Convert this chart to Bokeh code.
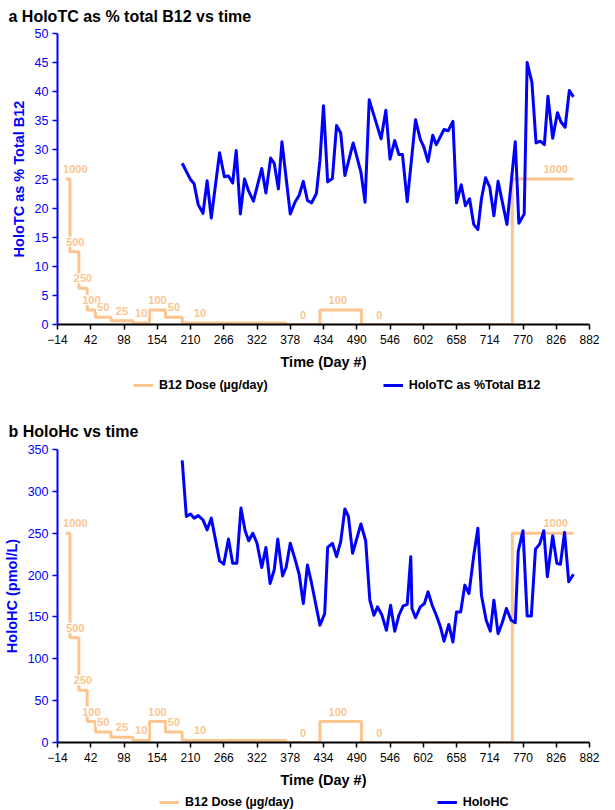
from bokeh.plotting import figure
from bokeh.models import Range1d, FixedTicker, Legend, LegendItem
from bokeh.layouts import column
from bokeh.embed import file_html
from bokeh.resources import INLINE
from bokeh.core.properties import value

FONT = "Liberation Sans"
BLUE = "#0000FF"
ORANGE = "#FCC48F"

# ---------------- data ----------------
x_ticks = [-14, 42, 98, 154, 210, 266, 322, 378, 434, 490, 546, 602, 658, 714, 770, 826, 882]
tc_ticks = [0, 5, 10, 15, 20, 25, 30, 35, 40, 45, 50]
hc_ticks = [0, 50, 100, 150, 200, 250, 300, 350]

dose_start = [0, 7, 22, 36, 50, 76, 113, 141, 168, 196, 371, 428, 498, 752]
dose_ugday = [1000, 500, 250, 100, 50, 25, 10, 100, 50, 10, 0, 100, 0, 1000]
dose_end = 855

tc_days = [196, 210, 216, 223, 231, 238, 245, 259, 267, 274,
           281, 287, 294, 301, 308, 316, 330, 337, 345, 351,
           358, 364, 378, 386, 393, 400, 407, 414, 422, 428,
           434, 441, 449, 456, 463, 470, 484, 497, 504, 511,
           531, 539, 546, 554, 561, 567, 575, 589, 597, 603,
           610, 618, 624, 637, 644, 652, 658, 666, 673, 680,
           687, 694, 700, 707, 714, 721, 728, 743, 757, 763,
           772, 777, 785, 792, 799, 806, 812, 820, 828, 834,
           841, 848, 855]
tc_pct = [27.7, 24.9, 24.2, 20.6, 19.1, 24.7, 18.3, 29.5, 25.4, 25.5,
          24.3, 29.9, 19.0, 25.0, 22.9, 21.2, 26.8, 22.6, 28.6, 27.7,
          23.3, 31.4, 19.0, 21.0, 22.2, 24.6, 21.3, 20.9, 22.5, 28.2,
          37.6, 24.5, 25.1, 34.2, 32.9, 25.6, 31.2, 26.2, 21.0, 38.6,
          31.9, 36.8, 28.4, 31.6, 29.2, 29.2, 21.1, 35.2, 31.8, 30.5,
          28.0, 32.5, 30.9, 33.5, 33.3, 34.9, 20.9, 24.0, 20.4, 21.6,
          17.2, 16.3, 21.6, 25.2, 23.6, 18.7, 24.6, 17.2, 31.4, 17.4,
          19.0, 45.0, 41.6, 31.2, 31.5, 30.9, 39.2, 32.0, 36.4, 34.8,
          33.9, 40.2, 39.1]

hc_days = [196, 203, 210, 216, 223, 231, 238, 245, 259, 266,
           274, 281, 288, 295, 302, 308, 315, 322, 330, 337,
           344, 351, 357, 365, 371, 378, 386, 393, 400, 407,
           414, 428, 436, 441, 449, 456, 463, 470, 476, 483,
           497, 505, 512, 519, 525, 532, 540, 547, 554, 561,
           568, 575, 581, 583, 589, 597, 604, 610, 617, 624,
           631, 637, 645, 652, 658, 665, 672, 679, 687, 694,
           700, 708, 715, 721, 728, 735, 742, 750, 757, 762,
           770, 777, 784, 791, 798, 805, 811, 820, 827, 833,
           840, 847, 855]
hc_pmol = [337, 270, 273, 268, 271, 266, 254, 268, 217, 213,
           243, 214, 214, 280, 253, 241, 250, 238, 209, 233,
           190, 206, 243, 199, 209, 238, 219, 201, 166, 212,
           190, 140, 154, 233, 238, 222, 240, 279, 270, 226,
           261, 241, 170, 152, 162, 153, 134, 164, 133, 152,
           163, 165, 222, 160, 149, 162, 166, 180, 164, 152,
           138, 121, 141, 120, 156, 156, 188, 178, 223, 256,
           176, 146, 133, 170, 130, 143, 160, 146, 143, 229,
           253, 151, 151, 231, 237, 253, 198, 247, 214, 213,
           251, 192, 201]

X0, X1 = -14, 882
W = 600


def make_panel(title, ylab, yticks, dose_max, days, vals,
               height, top_border, bottom_border, title_standoff, title_valign):
    p = figure(width=W, height=height,
               min_border_left=49, min_border_right=11,
               min_border_top=top_border, min_border_bottom=bottom_border,
               x_range=Range1d(X0, X1), y_range=Range1d(0, yticks[-1]),
               output_backend="svg", toolbar_location=None,
               background_fill_color="white", border_fill_color="white",
               outline_line_color=None)
    p.extra_y_ranges = {"dose": Range1d(0, dose_max)}
    p.grid.visible = False

    p.title.text = title
    p.title.align = "left"
    p.title.offset = -49
    p.title.standoff = title_standoff
    p.title.vertical_align = title_valign
    p.title.text_font = FONT
    p.title.text_font_size = "16px"
    p.title.text_font_style = "bold"
    p.title.text_color = "black"
    try:
        p.title.text_line_height = 1.0
    except Exception:
        pass

    xa = p.xaxis[0]
    xa.ticker = FixedTicker(ticks=x_ticks)
    xa.axis_line_color = "black"
    xa.axis_line_width = 2
    xa.major_tick_line_color = "black"
    xa.major_tick_line_width = 1.5
    xa.major_tick_out = 5
    xa.major_tick_in = 0
    xa.minor_tick_out = 0
    xa.minor_tick_in = 0
    xa.major_label_text_font = FONT
    xa.major_label_text_font_size = "12px"
    xa.major_label_text_color = "black"
    xa.major_label_standoff = 5
    xa.axis_label = "Time (Day #)"
    xa.axis_label_text_font = FONT
    xa.axis_label_text_font_size = "14.5px"
    xa.axis_label_text_font_style = "bold"
    xa.axis_label_text_color = "black"
    xa.axis_label_standoff = 7

    ya = p.yaxis[0]
    ya.ticker = FixedTicker(ticks=yticks)
    ya.axis_line_color = BLUE
    ya.axis_line_width = 2
    ya.major_tick_line_color = BLUE
    ya.major_tick_line_width = 1.5
    ya.major_tick_out = 5
    ya.major_tick_in = 0
    ya.minor_tick_out = 0
    ya.minor_tick_in = 0
    ya.major_label_text_font = FONT
    ya.major_label_text_font_size = "12.5px"
    ya.major_label_text_color = BLUE
    ya.major_label_standoff = 4
    ya.axis_label = ylab
    ya.axis_label_text_font = FONT
    ya.axis_label_text_font_size = "14.5px"
    ya.axis_label_text_font_style = "bold"
    ya.axis_label_text_color = BLUE
    ya.axis_label_standoff = 5

    p.step(x=dose_start + [dose_end], y=dose_ugday + [dose_ugday[-1]],
           mode="after", y_range_name="dose",
           line_color=ORANGE, line_width=3)
    p.line(x=days, y=vals, line_color=BLUE, line_width=3, line_join="round")

    # dose value labels, placed from the segments of the dose schedule
    seg_end = dose_start[1:] + [dose_end]
    n = len(dose_start)
    lab_x = []
    for i, (s, e) in enumerate(zip(dose_start, seg_end)):
        half = min((e - s) / 2.0, 30)
        cx = (e - half) if i == n - 1 else (s + half)
        lab_x.append(max(cx, X0 + 30))
    lab_t = [str(v) for v in dose_ugday]
    kw = dict(x=lab_x, y=dose_ugday, text=lab_t, y_range_name="dose",
              text_align="center", text_baseline="bottom", y_offset=-5,
              text_font=value(FONT), text_font_style="bold",
              text_font_size="11px", text_color=ORANGE)
    try:
        p.text(background_fill_color="white", border_line_color=None, padding=1, **kw)
    except Exception:
        p.text(**kw)
    return p


def make_legend(series_name, height, x_left, y_bottom, spacing):
    q = figure(width=W, height=height, min_border=0,
               x_range=Range1d(0, 10), y_range=Range1d(0, 10),
               x_axis_location=None, y_axis_location=None,
               output_backend="svg", toolbar_location=None,
               background_fill_color="white", border_fill_color="white",
               outline_line_color=None)
    q.grid.visible = False
    # off-range renderers that only supply the legend swatches
    r_dose = q.line(x=[-5, -4], y=[-5, -5], line_color=ORANGE, line_width=3)
    r_ser = q.line(x=[-5, -4], y=[-5, -5], line_color=BLUE, line_width=3)
    legend = Legend(items=[LegendItem(label="B12 Dose (µg/day)", renderers=[r_dose]),
                           LegendItem(label=series_name, renderers=[r_ser])],
                    orientation="horizontal", location=(x_left, y_bottom),
                    spacing=spacing, padding=0, margin=0,
                    border_line_color=None, background_fill_alpha=0,
                    label_text_font=FONT, label_text_font_style="bold",
                    label_text_font_size="12.5px", label_text_color="black",
                    label_height=14, glyph_height=14,
                    glyph_width=20, label_standoff=6)
    q.add_layout(legend, "center")
    return q


p1 = make_panel("a HoloTC as % total B12 vs time", "HoloTC as % Total B12", tc_ticks, 2000,
                tc_days, tc_pct, 374, 33, 50, 14, "top")
l1 = make_legend("HoloTC as %Total B12", 22, 76, 4, 115)
p2 = make_panel("b HoloHc vs time", "HoloHC (pmol/L)", hc_ticks, 1400,
                hc_days, hc_pmol, 396, 53, 50, 20, "bottom")
l2 = make_legend("HoloHC", 18, 102, 1, 143)

layout = column(p1, l1, p2, l2, spacing=0)
open("out.html", "w").write(file_html(layout, INLINE))
